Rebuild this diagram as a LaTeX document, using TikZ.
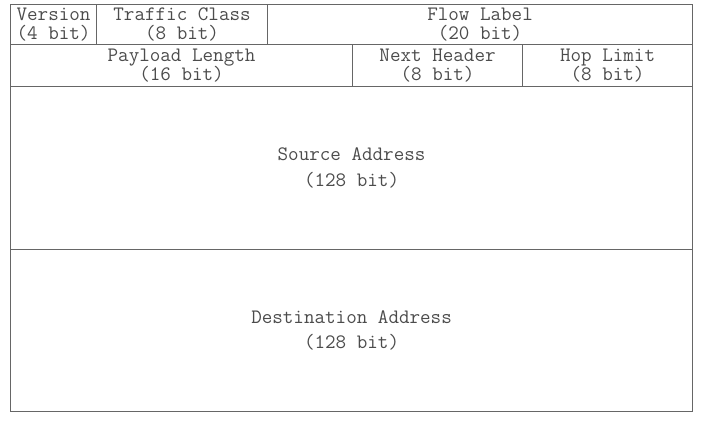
\documentclass[tikz,border=0pt]{standalone}
\usepackage{fontspec}
\usetikzlibrary{positioning}

\begin{document}
\begin{tikzpicture}[x=1pt, y=-1pt,
	fld/.style={draw=black!60, line width=1.1pt, anchor=north west, inner sep=0pt,
		align=center, text=black!70, font=\ttfamily\fontsize{20.5}{19}\selectfont},
	big/.style={fld, font=\ttfamily\fontsize{20.5}{25.5}\selectfont}]
	\useasboundingbox (0,0) rectangle (701,426);
	% first word
	\node[fld, minimum width=86pt, minimum height=40pt] (ver) at (10,4) {Version\\(4 bit)};
	\node[fld, minimum width=171pt, minimum height=40pt] (tc) at (96,4) {Traffic Class\\(8 bit)};
	\node[fld, minimum width=425pt, minimum height=40pt] (flow) at (267,4) {Flow Label\\(20 bit)};
	% second word
	\node[fld, minimum width=342pt, minimum height=42pt] (plen) at (10,44) {Payload Length\\(16 bit)};
	\node[fld, minimum width=170pt, minimum height=42pt] (nh) at (352,44) {Next Header\\(8 bit)};
	\node[fld, minimum width=170pt, minimum height=42pt] (hop) at (522,44) {Hop Limit\\(8 bit)};
	% addresses
	\node[big, minimum width=682pt, minimum height=163pt] (src) at (10,86) {Source Address\\(128 bit)};
	\node[big, minimum width=682pt, minimum height=162pt] (dst) at (10,249) {Destination Address\\(128 bit)};
\end{tikzpicture}
\end{document}
